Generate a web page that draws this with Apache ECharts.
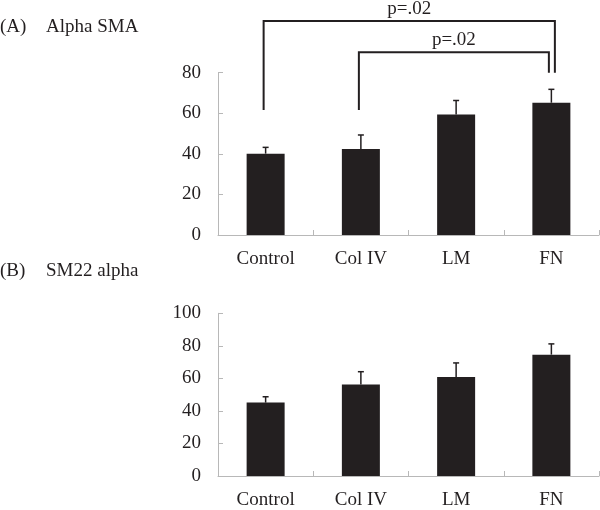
<!DOCTYPE html>
<html>
<head>
<meta charset="utf-8">
<script src="https://cdn.jsdelivr.net/npm/echarts@6/dist/echarts.min.js"></script>
<style>
html,body{margin:0;padding:0;background:#fff;}
#chart{width:600px;height:510px;}
</style>
</head>
<body>
<div id="chart"></div>
<script>
// ---- data ----
var categories = ['Control', 'Col IV', 'LM', 'FN'];
var smaMean = [40.1, 42.4, 59.4, 65.2];
var smaErr = [3.1, 6.9, 6.9, 6.6];
var sm22Mean = [45.1, 56.3, 60.8, 74.6];
var sm22Err = [3.6, 7.8, 8.7, 6.6];
var smaTicks = [0, 20, 40, 60, 80];
var sm22Ticks = [0, 20, 40, 60, 80, 100];
var panelTitles = ['(A)', '(B)'];
var panelNames = ['Alpha SMA', 'SM22 alpha'];
// significance brackets (panel A): [fromIndex, toIndex, bracketLevel, leftLegEnd, rightLegEnd]
var bracketPairs = [[0, 3], [1, 3]];
var bracketLevels = [105.5, 90.1];
var bracketLeftEnds = [61.6, 61.6];
var bracketRightEnds = [80, 80];
var bracketLabels = ['p=.02', 'p=.02'];

var FONT = '"Liberation Serif", "Times New Roman", serif';
var INK = '#231f20';
var AXIS = '#b8b8b8';

function errItems(mean, err) {
  return mean.map(function (m, i) { return [i, m, m + err[i]]; });
}
function errRender(params, api) {
  var top = api.coord([api.value(0), api.value(1)]);
  var hi = api.coord([api.value(0), api.value(2)]);
  var cap = 3;
  return {
    type: 'group',
    children: [
      { type: 'line', shape: { x1: top[0], y1: top[1], x2: hi[0], y2: hi[1] }, style: { stroke: INK, lineWidth: 1.5 } },
      { type: 'line', shape: { x1: hi[0] - cap, y1: hi[1], x2: hi[0] + cap, y2: hi[1] }, style: { stroke: INK, lineWidth: 1.5 } }
    ]
  };
}
var bracketData = bracketPairs.map(function (p, i) {
  return [p[0], p[1], bracketLevels[i], bracketLeftEnds[i], bracketRightEnds[i]];
});
function bracketRender(params, api) {
  var i = params.dataIndex;
  var rightShift = i === 0 ? 3.5 : -2.5;
  var a = api.coord([api.value(0), api.value(2)]);
  var b = api.coord([api.value(1), api.value(2)]);
  var aEnd = api.coord([api.value(0), api.value(3)]);
  var bEnd = api.coord([api.value(1), api.value(4)]);
  var xl = a[0] - 2, xr = b[0] + rightShift, y = a[1];
  return {
    type: 'group',
    children: [
      { type: 'polyline', shape: { points: [[xl, aEnd[1]], [xl, y], [xr, y], [xr, bEnd[1]]] },
        style: { stroke: INK, lineWidth: 2, fill: null } },
      { type: 'text', x: (xl + xr) / 2, y: y - 12,
        style: { text: bracketLabels[i], font: '19px ' + FONT, fill: INK, align: 'center', verticalAlign: 'middle' } }
    ]
  };
}

function xAxisCfg(gi) {
  return {
    type: 'category', gridIndex: gi, data: categories,
    axisLine: { lineStyle: { color: AXIS, width: 1 } },
    axisTick: { show: true, inside: true, length: 5, lineStyle: { color: AXIS } },
    axisLabel: { fontFamily: FONT, fontSize: 19, color: INK, margin: 15 },
    splitLine: { show: false }
  };
}
function yAxisCfg(gi, ticks) {
  return {
    type: 'value', gridIndex: gi, min: ticks[0], max: ticks[ticks.length - 1], interval: ticks[1] - ticks[0],
    axisLine: { show: true, lineStyle: { color: AXIS, width: 1 } },
    axisTick: { show: true, inside: true, length: 5, lineStyle: { color: AXIS } },
    axisLabel: { fontFamily: FONT, fontSize: 19, color: INK, margin: 17 },
    splitLine: { show: false }
  };
}

var chart = echarts.init(document.getElementById('chart'), null, { renderer: 'canvas' });
chart.setOption({
  animation: false,
  backgroundColor: '#fff',
  grid: [
    { left: 218, width: 381, top: 72.7, height: 162.3 },
    { left: 218, width: 381, top: 313.3, height: 167 }
  ],
  xAxis: [xAxisCfg(0), xAxisCfg(1)],
  yAxis: [yAxisCfg(0, smaTicks), yAxisCfg(1, sm22Ticks)],
  graphic: [
    { type: 'text', left: 0, top: 18, style: { text: panelTitles[0], font: '19px ' + FONT, fill: INK } },
    { type: 'text', left: 46, top: 18, style: { text: panelNames[0], font: '19px ' + FONT, fill: INK } },
    { type: 'text', left: 0, top: 262, style: { text: panelTitles[1], font: '19px ' + FONT, fill: INK } },
    { type: 'text', left: 46, top: 262, style: { text: panelNames[1], font: '19px ' + FONT, fill: INK } }
  ],
  series: [
    { type: 'bar', xAxisIndex: 0, yAxisIndex: 0, data: smaMean, barWidth: 38, itemStyle: { color: INK } },
    { type: 'custom', xAxisIndex: 0, yAxisIndex: 0, data: errItems(smaMean, smaErr), renderItem: errRender, z: 3 },
    { type: 'custom', xAxisIndex: 0, yAxisIndex: 0, data: bracketData, renderItem: bracketRender, clip: false, z: 4 },
    { type: 'bar', xAxisIndex: 1, yAxisIndex: 1, data: sm22Mean, barWidth: 38, itemStyle: { color: INK } },
    { type: 'custom', xAxisIndex: 1, yAxisIndex: 1, data: errItems(sm22Mean, sm22Err), renderItem: errRender, z: 3 }
  ]
});
</script>
</body>
</html>
